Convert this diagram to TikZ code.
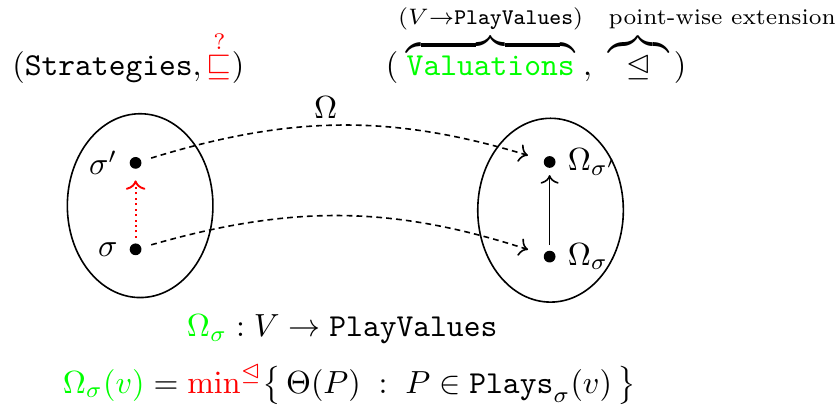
\documentclass[tikz,border=0pt]{standalone}
\usepackage{amsmath,amssymb,amsfonts}
\usepackage{xcolor}
\usepackage{tikz}
\usetikzlibrary{shapes.geometric,positioning,calc,arrows.meta}

\begin{document}
\begin{tikzpicture}[line width=0.5pt,
    dot/.style={circle, fill, inner sep=1.3pt},
    blob/.style={draw, ellipse, minimum width=1.6cm, minimum height=2.02cm, inner sep=0pt},
    omap/.style={->, dash pattern=on 1.8pt off 1.3pt, shorten <=3pt, shorten >=5pt}]
  \useasboundingbox (0, 0) rectangle (9.22, 4.45);

  % headers
  \node[anchor=base] (hs) at (1.41, 3.615)
    {$(\texttt{Strategies}, \textcolor{red}{\overset{?}{\sqsubseteq}})$};
  \node[anchor=base] (hv) at (5.89, 3.615)
    {$(\overbrace{\textcolor{green}{\texttt{Valuations}}}^{(V\to\texttt{PlayValues})},\ \overbrace{\;\;\unlhd\;\;}\,)$};
  \node[anchor=base west, inner sep=0pt] (pw) at (6.68, 4.18) {\scriptsize point-wise extension};

  % strategies and valuations
  \node[blob] (strat) at (1.54, 2.19) {};
  \node[blob] (vals) at (6.05, 2.14) {};
  \node[dot, label=left:$\sigma'$] (s1) at (1.49, 2.66) {};
  \node[dot, label=left:$\sigma$] (s0) at (1.49, 1.71) {};
  \node[dot, label=right:$\Omega_{\sigma'}$] (o1) at (6.04, 2.67) {};
  \node[dot, label=right:$\Omega_{\sigma}$] (o0) at (6.04, 1.63) {};

  \draw[red, line width=0.6pt, dash pattern=on 0.6pt off 1.1pt, ->, shorten <=1.5pt, shorten >=3.4pt] (s0) -- (s1);
  \draw[->, shorten <=1.5pt, shorten >=2pt] (o0) -- (o1);
  \draw[omap] (s1) to[bend left=17] (o1);
  \draw[omap] (s0) to[bend left=17] (o0);
  \node (om) at (3.58, 3.27) {$\Omega$};

  % definitions
  \node[anchor=base] (d1) at (3.76, 0.747)
    {$\textcolor{green}{\Omega_\sigma} : V \to \texttt{PlayValues}$};
  \node[anchor=base] (d2) at (3.84, 0.13)
    {$\textcolor{green}{\Omega_\sigma(v)} = \textcolor{red}{\min^{\unlhd}}\big\{\,\Theta(P)\;:\;P\in\texttt{Plays}_\sigma(v)\,\big\}$};
\end{tikzpicture}
\end{document}
